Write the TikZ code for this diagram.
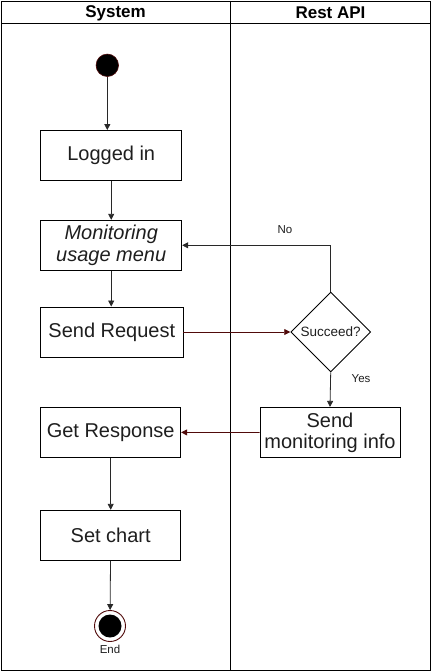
\documentclass[tikz,border=0pt]{standalone}
\usepackage{fontspec}
\setmainfont{Liberation Sans}
\usetikzlibrary{shapes.geometric,arrows.meta}
\definecolor{darkred}{RGB}{80,10,10}
\definecolor{txt}{RGB}{30,30,30}
\begin{document}
\begin{tikzpicture}[x=1pt,y=-1pt,
  lane/.style={draw=black,line width=0.9pt},
  actbox/.style={draw=black,line width=0.9pt,rectangle,minimum width=141pt,minimum height=50pt,inner sep=0pt,align=center,font=\fontsize{20}{22.5}\selectfont,text=txt},
  flow/.style={draw={rgb,255:red,40;green,40;blue,40},line width=0.8pt,-{Triangle[length=6pt,width=6pt]}},
  redflow/.style={draw=darkred,line width=0.8pt,-{Triangle[length=6pt,width=6pt]}},
  small/.style={font=\fontsize{11.5}{13}\selectfont,text=txt}]
\useasboundingbox (0,0) rectangle (432,671);
% swimlanes
\draw[lane] (1,1) rectangle (430,670);
\draw[lane] (1,23.3) -- (430,23.3);
\draw[lane] (230.6,1) -- (230.6,670);
\node[font=\bfseries\fontsize{17}{19}\selectfont] (hsys) at (115.5,13) {System};
\node[font=\bfseries\fontsize{17}{19}\selectfont] (hapi) at (330.5,13) {Rest API};
% start
\node[circle,fill=black,draw=darkred,line width=0.6pt,minimum size=22.5pt,inner sep=0pt] (start) at (107.3,65.3) {};
% activities
\node[actbox] (login) at (111.2,155.5) {Logged in};
\node[actbox] (menu) at (111.2,245.3) {\itshape Monitoring\\[-1pt]\itshape usage menu};
\node[actbox,minimum width=142.3pt] (send) at (111.8,332) {Send Request};
\node[actbox,minimum width=140pt] (getr) at (110.7,432.3) {Get Response};
\node[actbox,minimum width=140pt] (chart) at (110.7,535.3) {Set chart};
\node[actbox,minimum width=140pt,minimum height=50.5pt] (info) at (330,432.6) {Send\\[-2pt]monitoring info};
\node[diamond,draw=black,line width=0.9pt,minimum width=80pt,minimum height=80pt,inner sep=0pt] (dec) at (330.7,332) {};
\node[font=\fontsize{13.5}{15}\selectfont,text=txt] (declabel) at (dec) {Succeed?};
% end
\node[circle,draw=darkred,fill=white,line width=0.9pt,minimum size=31pt,inner sep=0pt] (endo) at (110,626) {};
\node[circle,fill=black,minimum size=23pt,inner sep=0pt] (endi) at (endo) {};
\node[small] (endlbl) at (110,649.5) {End};
% connectors
\draw[flow] (start) -- (start |- login.north);
\draw[flow] (login) -- (menu);
\draw[flow] (menu) -- (menu |- send.north);
\draw[redflow] (send) -- (dec.west);
\draw[flow] (dec.north) |- (menu.east);
\node[small] (nolbl) at (285,230) {No};
\draw[flow] (dec.south) -- (info.north);
\node[small] (yeslbl) at (361,379) {Yes};
\draw[redflow] (info) -- (getr);
\draw[flow] (getr) -- (chart);
\draw[flow] (chart) -- (endo);
\end{tikzpicture}
\end{document}
